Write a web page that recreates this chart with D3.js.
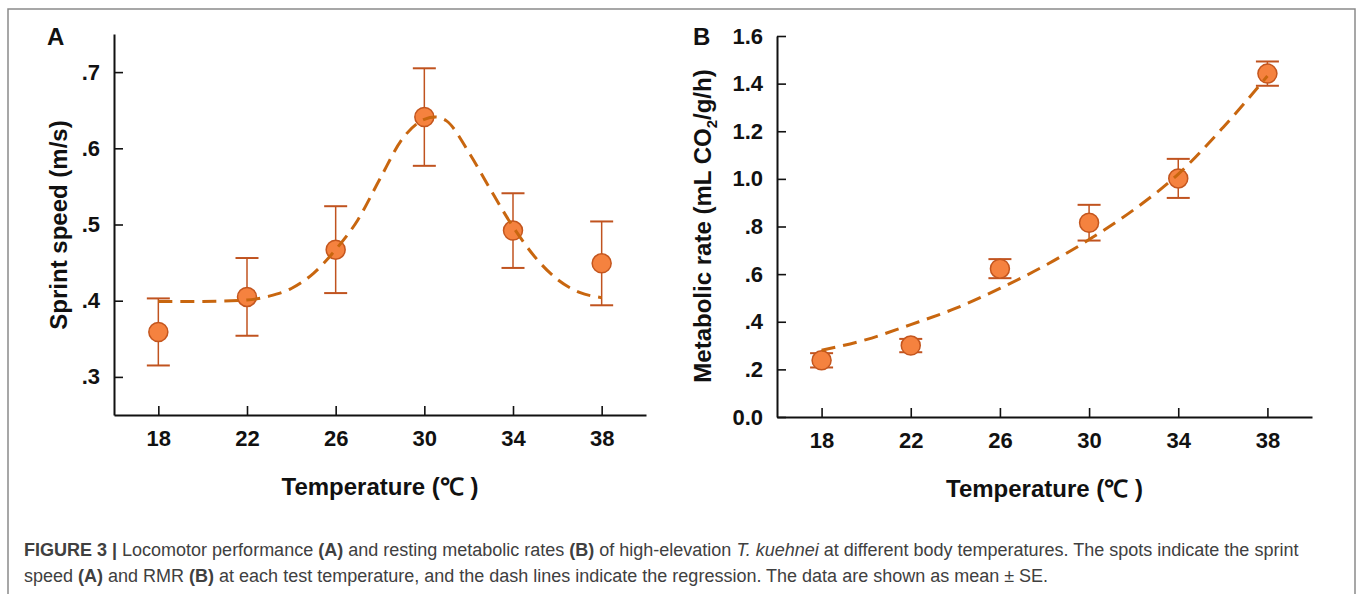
<!DOCTYPE html>
<html>
<head>
<meta charset="utf-8">
<script src="https://cdn.jsdelivr.net/npm/d3@7"></script>
<style>
  body { margin: 0; background: #fff; }
  .tick text { font-family: "Liberation Sans", Arial, sans-serif; font-weight: bold; font-size: 22px; fill: #111; }
  .axisTitle { font-family: "Liberation Sans", Arial, sans-serif; font-weight: bold; font-size: 24px; fill: #111; }
  .caption { font-family: "Liberation Sans", Arial, sans-serif; font-size: 18px; fill: #404040; }
</style>
</head>
<body>
<div class="chart"></div>
<script>
// test temperatures and means +/- SE
var temps = [18, 22, 26, 30, 34, 38];
var sprintMean = [0.359, 0.405, 0.467, 0.641, 0.492, 0.449];
var sprintSE = [0.044, 0.051, 0.057, 0.064, 0.049, 0.055];
var rmrMean = [0.238, 0.300, 0.623, 0.816, 1.002, 1.442];
var rmrSE = [0.030, 0.028, 0.040, 0.075, 0.082, 0.051];

// regression lines
var fitTempsA = [18, 20, 22, 23, 24, 25, 26, 27, 28, 29, 30, 30.5, 31, 32, 33, 34, 35, 36, 37, 38];
var fitSprint = [0.399, 0.399, 0.401, 0.406, 0.416, 0.436, 0.467, 0.506, 0.560, 0.612, 0.638, 0.641, 0.636, 0.595, 0.545, 0.497, 0.457, 0.428, 0.411, 0.404];
var fitTempsB = [18, 20, 22, 24, 26, 28, 30, 32, 34, 36, 38];
var fitRmr = [0.280, 0.325, 0.388, 0.456, 0.540, 0.635, 0.745, 0.870, 1.020, 1.215, 1.432];

var ticksA = [0.3, 0.4, 0.5, 0.6, 0.7];
var tickLabelsA = [".3", ".4", ".5", ".6", ".7"];
var ticksB = [0, 0.2, 0.4, 0.6, 0.8, 1.0, 1.2, 1.4, 1.6];
var tickLabelsB = ["0.0", ".2", ".4", ".6", ".8", "1.0", "1.2", "1.4", "1.6"];

var svgWidth = 1358;
var svgHeight = 594;

var svg = d3.select(".chart")
  .append("svg")
  .attr("width", svgWidth)
  .attr("height", svgHeight);

// figure frame
svg.append("path")
  .attr("d", "M8,600 V9 H1355 V600")
  .attr("fill", "none")
  .attr("stroke", "#8a8a8a")
  .attr("stroke-width", 1.5);

var dotFill = "#f5823f";
var dotStroke = "#c4561e";
var barColor = "#c0531f";
var lineColor = "#c8660f";

function panel(opts) {
  var x = d3.scaleLinear().domain([16, 40]).range(opts.xRange);
  var y = d3.scaleLinear().domain(opts.yDomain).range(opts.yRange);
  var g = svg.append("g");

  var xAxis = d3.axisBottom(x)
    .tickValues(temps)
    .tickSizeInner(-9)
    .tickSizeOuter(0)
    .tickPadding(15);
  var yAxis = d3.axisLeft(y)
    .tickValues(opts.ticks)
    .tickFormat((d, i) => opts.tickLabels[i])
    .tickSizeInner(-9)
    .tickSizeOuter(0)
    .tickPadding(14);

  var gx = g.append("g")
    .attr("transform", `translate(0, ${opts.yRange[0]})`)
    .call(xAxis);
  var gy = g.append("g")
    .attr("transform", `translate(${opts.xRange[0]}, 0)`)
    .call(yAxis);
  [gx, gy].forEach(function (a) {
    a.select(".domain").attr("stroke", "#111").attr("stroke-width", 2);
    a.selectAll(".tick line").attr("stroke", "#111").attr("stroke-width", 1.6);
  });

  var pts = temps.map((t, i) => ({ t: t, m: opts.mean[i], se: opts.se[i] }));

  // error bars
  var eb = g.append("g");
  eb.selectAll(".v")
    .data(pts).enter().append("line")
    .attr("x1", d => x(d.t)).attr("x2", d => x(d.t))
    .attr("y1", d => y(d.m + d.se)).attr("y2", d => y(d.m - d.se))
    .attr("stroke", barColor).attr("stroke-width", 1.5);
  eb.selectAll(".top")
    .data(pts).enter().append("line")
    .attr("x1", d => x(d.t) - 11.5).attr("x2", d => x(d.t) + 11.5)
    .attr("y1", d => y(d.m + d.se)).attr("y2", d => y(d.m + d.se))
    .attr("stroke", barColor).attr("stroke-width", 2);
  eb.selectAll(".bot")
    .data(pts).enter().append("line")
    .attr("x1", d => x(d.t) - 11.5).attr("x2", d => x(d.t) + 11.5)
    .attr("y1", d => y(d.m - d.se)).attr("y2", d => y(d.m - d.se))
    .attr("stroke", barColor).attr("stroke-width", 2);

  g.selectAll("circle")
    .data(pts).enter().append("circle")
    .attr("cx", d => x(d.t))
    .attr("cy", d => y(d.m))
    .attr("r", 9.5)
    .attr("fill", dotFill)
    .attr("stroke", dotStroke)
    .attr("stroke-width", 1.5);

  var line = d3.line()
    .x(d => x(d[0]))
    .y(d => y(d[1]))
    .curve(d3.curveMonotoneX);
  g.append("path")
    .datum(opts.fitT.map((t, i) => [t, opts.fitV[i]]))
    .attr("d", line)
    .attr("fill", "none")
    .attr("stroke", lineColor)
    .attr("stroke-width", 3)
    .attr("stroke-dasharray", "14,8");

  // axis titles
  g.append("text")
    .attr("class", "axisTitle")
    .attr("text-anchor", "middle")
    .attr("x", (opts.xRange[0] + opts.xRange[1]) / 2)
    .attr("y", opts.xTitleY)
    .text("Temperature (℃ )");

  var yt = g.append("text")
    .attr("class", "axisTitle")
    .attr("text-anchor", "middle")
    .attr("transform", `translate(${opts.yTitleX}, ${opts.yTitleY}) rotate(-90)`);
  opts.yTitle(yt);

  g.append("text")
    .attr("class", "axisTitle")
    .attr("x", opts.letterX)
    .attr("y", 45)
    .text(opts.letter);
}

panel({
  xRange: [114, 646], yDomain: [0.25, 0.75], yRange: [415, 34],
  ticks: ticksA, tickLabels: tickLabelsA,
  mean: sprintMean, se: sprintSE, fitT: fitTempsA, fitV: fitSprint,
  xTitleY: 495, yTitleX: 67, yTitleY: 225,
  yTitle: t => t.text("Sprint speed (m/s)"),
  letter: "A", letterX: 47
});

panel({
  xRange: [777, 1312], yDomain: [0, 1.6], yRange: [417, 36],
  ticks: ticksB, tickLabels: tickLabelsB,
  mean: rmrMean, se: rmrSE, fitT: fitTempsB, fitV: fitRmr,
  xTitleY: 497, yTitleX: 711, yTitleY: 226,
  yTitle: function (t) {
    t.append("tspan").text("Metabolic rate (mL CO");
    t.append("tspan").attr("font-size", "15px").attr("dy", 6).text("2");
    t.append("tspan").attr("dy", -6).text("/g/h)");
  },
  letter: "B", letterX: 693
});

// caption
var cap1 = svg.append("text").attr("class", "caption").attr("x", 24).attr("y", 556);
cap1.append("tspan").attr("font-weight", "bold").text("FIGURE 3 | ");
cap1.append("tspan").text("Locomotor performance ");
cap1.append("tspan").attr("font-weight", "bold").text("(A)");
cap1.append("tspan").text(" and resting metabolic rates ");
cap1.append("tspan").attr("font-weight", "bold").text("(B)");
cap1.append("tspan").text(" of high-elevation ");
cap1.append("tspan").attr("font-style", "italic").text("T. kuehnei");
cap1.append("tspan").text(" at different body temperatures. The spots indicate the sprint");

var cap2 = svg.append("text").attr("class", "caption").attr("x", 24).attr("y", 582);
cap2.append("tspan").text("speed ");
cap2.append("tspan").attr("font-weight", "bold").text("(A)");
cap2.append("tspan").text(" and RMR ");
cap2.append("tspan").attr("font-weight", "bold").text("(B)");
cap2.append("tspan").text(" at each test temperature, and the dash lines indicate the regression. The data are shown as mean \u00b1 SE.");
</script>
</body>
</html>
